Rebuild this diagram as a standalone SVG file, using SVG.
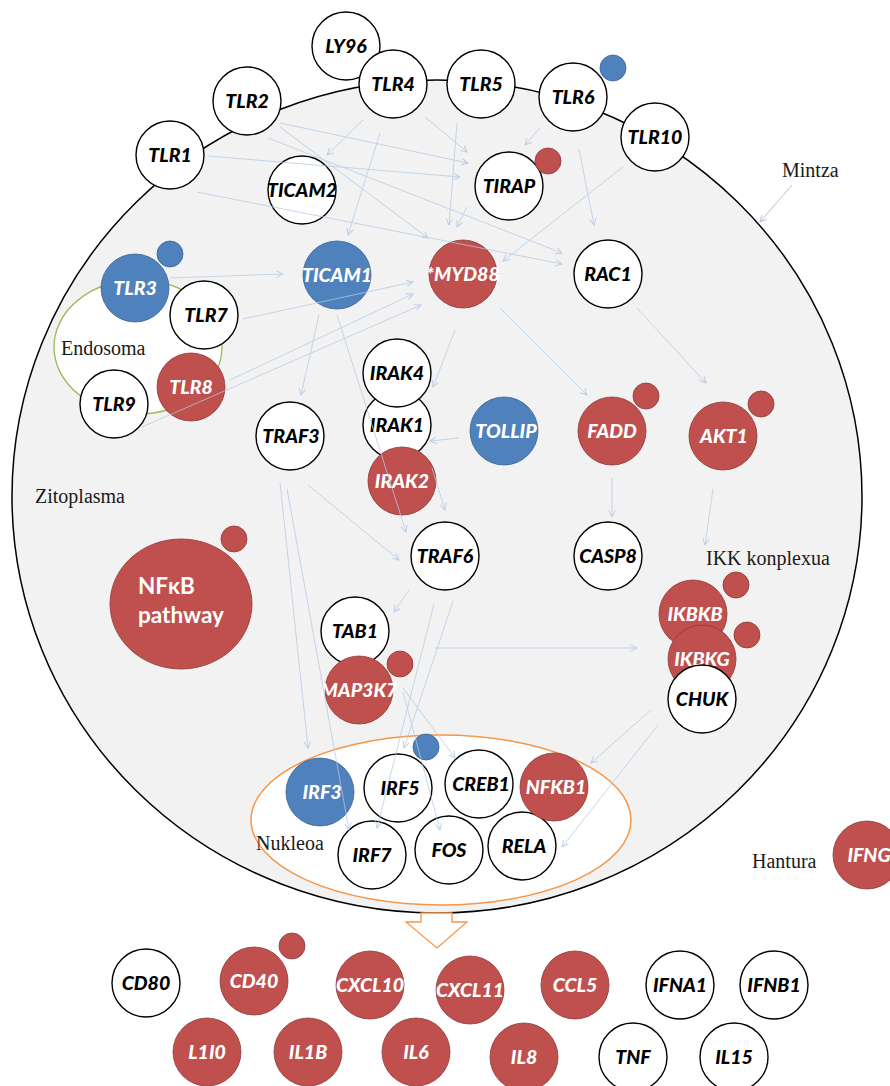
<svg xmlns="http://www.w3.org/2000/svg" width="890" height="1086" viewBox="0 0 890 1086">
<style>
.nw{fill:#fff;stroke:#000;stroke-width:1.4}
.nr{fill:#c0504d;stroke:#8c3a38;stroke-width:0.8}
.nb{fill:#4f81bd;stroke:#3a6496;stroke-width:0.8}
.t{font-family:Lato,"Liberation Sans",sans-serif;font-weight:900;font-style:italic;font-size:19.5px;text-anchor:middle}
.tk{fill:#000}
.tw{fill:#fff}
.lbl{font-family:"Liberation Serif",serif;font-size:20px;fill:#1a1a1a}
.c line{stroke:#b4cbe6;stroke-width:1;fill:none;marker-end:url(#ah)}
</style>
<defs>
<marker id="ah" viewBox="0 0 10 10" refX="9" refY="5" markerWidth="8" markerHeight="8" orient="auto" markerUnits="userSpaceOnUse">
<path d="M1,1 L9,5 L1,9" fill="none" stroke="#a9c1e0" stroke-width="1.2"/>
</marker>
<marker id="ahm" viewBox="0 0 10 10" refX="9" refY="5" markerWidth="8" markerHeight="8" orient="auto" markerUnits="userSpaceOnUse">
<path d="M1,1 L9,5 L1,9" fill="none" stroke="#aaaac8" stroke-width="1.2"/>
</marker>
</defs>
<rect width="890" height="1086" fill="#fff"/>
<g id="cell">
<ellipse cx="437" cy="496.5" rx="425" ry="416.5" fill="#f2f2f2" stroke="#000" stroke-width="1.5"/>
</g>
<g id="endosome">
<ellipse cx="138" cy="347" rx="84" ry="67" fill="#fff" stroke="#9bbb59" stroke-width="1.3"/>
<text class="lbl" x="61" y="355">Endosoma</text>
</g>
<g id="nucleus">
<ellipse cx="441" cy="820" rx="190" ry="85" fill="#fff" stroke="#f79646" stroke-width="1.5"/>
<text class="lbl" x="256" y="850">Nukleoa</text>
</g>
<g id="labels">
<text class="lbl" x="35" y="503">Zitoplasma</text>
<text class="lbl" x="706" y="565">IKK konplexua</text>
<text class="lbl" x="782" y="177">Mintza</text>
<text class="lbl" x="752" y="868">Hantura</text>
</g>
<g id="export-arrow">
<polygon points="421,913 452,913 452,922 467,922 437,948 406,922 421,922" fill="#fff" stroke="#f79646" stroke-width="1.3"/>
</g>
<g id="LY96"><circle class="nw" cx="346" cy="46" r="34"/><text class="t tk" x="346" y="53">LY96</text></g>
<g id="TLR4"><circle class="nw" cx="393" cy="84" r="34"/><text class="t tk" x="393" y="91">TLR4</text></g>
<g id="TLR5"><circle class="nw" cx="481" cy="84" r="34"/><text class="t tk" x="481" y="91">TLR5</text></g>
<g id="TLR6"><circle class="nw" cx="573" cy="97" r="34"/><text class="t tk" x="573" y="104">TLR6</text><circle class="nb" cx="613" cy="68" r="13"/></g>
<g id="TLR10"><circle class="nw" cx="655" cy="137" r="34"/><text class="t tk" x="655" y="144">TLR10</text></g>
<g id="TLR2"><circle class="nw" cx="247" cy="101" r="34"/><text class="t tk" x="247" y="108">TLR2</text></g>
<g id="TLR1"><circle class="nw" cx="170" cy="155" r="34"/><text class="t tk" x="170" y="162">TLR1</text></g>
<g id="TICAM2"><circle class="nw" cx="302" cy="190" r="34"/><text class="t tk" x="302" y="197">TICAM2</text></g>
<g id="TIRAP"><circle class="nw" cx="509" cy="186" r="34"/><text class="t tk" x="509" y="193">TIRAP</text><circle class="nr" cx="548" cy="161" r="13"/></g>
<g id="TLR3"><circle class="nb" cx="135" cy="288" r="34"/><text class="t tw" x="135" y="295">TLR3</text><circle class="nb" cx="170" cy="254" r="13"/></g>
<g id="TLR7"><circle class="nw" cx="204" cy="315" r="34"/><text class="t tk" x="206" y="322">TLR7</text></g>
<g id="TLR9"><circle class="nw" cx="114" cy="404" r="34"/><text class="t tk" x="114" y="411">TLR9</text></g>
<g id="TLR8"><circle class="nr" cx="191" cy="387" r="34"/><text class="t tw" x="191" y="394">TLR8</text></g>
<g id="TICAM1"><circle class="nb" cx="337" cy="275" r="34"/><text class="t tw" x="337" y="282">TICAM1</text></g>
<g id="MYD88"><circle class="nr" cx="463" cy="274" r="34"/><text class="t tw" x="463" y="281">*MYD88</text></g>
<g id="RAC1"><circle class="nw" cx="608" cy="274" r="34"/><text class="t tk" x="608" y="281">RAC1</text></g>
<g id="IRAK1"><circle class="nw" cx="397" cy="425" r="34"/><text class="t tk" x="397" y="432">IRAK1</text></g>
<g id="IRAK4"><circle class="nw" cx="397" cy="373" r="34"/><text class="t tk" x="397" y="380">IRAK4</text></g>
<g id="IRAK2"><circle class="nr" cx="402" cy="481" r="34"/><text class="t tw" x="402" y="488">IRAK2</text></g>
<g id="TOLLIP"><circle class="nb" cx="504" cy="431" r="34"/><text class="t tw" x="506" y="438">TOLLIP</text></g>
<g id="TRAF3"><circle class="nw" cx="290" cy="436" r="34"/><text class="t tk" x="291" y="443">TRAF3</text></g>
<g id="FADD"><circle class="nr" cx="612" cy="431" r="34"/><text class="t tw" x="612" y="438">FADD</text><circle class="nr" cx="646" cy="396" r="13"/></g>
<g id="AKT1"><circle class="nr" cx="723" cy="436" r="34"/><text class="t tw" x="724" y="443">AKT1</text><circle class="nr" cx="761" cy="404" r="13"/></g>
<g id="NFkB-pathway"><ellipse class="nr" cx="181" cy="604" rx="71" ry="65"/><text font-family="Lato,'Liberation Sans',sans-serif" font-weight="bold" font-size="22.5" fill="#fff" x="138" y="594">NFκB</text><text font-family="Lato,'Liberation Sans',sans-serif" font-weight="bold" font-size="22.5" fill="#fff" x="138" y="623">pathway</text><circle class="nr" cx="234" cy="539" r="13"/></g>
<g id="TRAF6"><circle class="nw" cx="445" cy="556" r="34"/><text class="t tk" x="445" y="563">TRAF6</text></g>
<g id="CASP8"><circle class="nw" cx="608" cy="556" r="34"/><text class="t tk" x="608" y="563">CASP8</text></g>
<g id="TAB1"><circle class="nw" cx="355" cy="631" r="34"/><text class="t tk" x="355" y="638">TAB1</text></g>
<g id="MAP3K7"><circle class="nr" cx="359" cy="690" r="34"/><text class="t tw" x="359" y="697">MAP3K7</text><circle class="nr" cx="400" cy="664" r="13"/></g>
<g id="IKBKB"><circle class="nr" cx="693" cy="614" r="34"/><text class="t tw" x="695" y="621">IKBKB</text><circle class="nr" cx="736" cy="585" r="13"/></g>
<g id="IKBKG"><circle class="nr" cx="702" cy="659" r="34"/><text class="t tw" x="702" y="666">IKBKG</text><circle class="nr" cx="747" cy="635" r="13"/></g>
<g id="CHUK"><circle class="nw" cx="702" cy="699" r="34"/><text class="t tk" x="702" y="706">CHUK</text></g>
<g id="IRF3"><circle class="nb" cx="320" cy="792" r="34"/><text class="t tw" x="322" y="799">IRF3</text></g>
<g id="IRF5"><circle class="nw" cx="398" cy="788" r="34"/><text class="t tk" x="400" y="795">IRF5</text><circle class="nb" cx="426" cy="747" r="13"/></g>
<g id="CREB1"><circle class="nw" cx="479" cy="784" r="34"/><text class="t tk" x="481" y="791">CREB1</text></g>
<g id="RELA"><circle class="nw" cx="522" cy="846" r="34"/><text class="t tk" x="524" y="853">RELA</text></g>
<g id="NFKB1"><circle class="nr" cx="554" cy="787" r="34"/><text class="t tw" x="556" y="794">NFKB1</text></g>
<g id="IRF7"><circle class="nw" cx="372" cy="855" r="34"/><text class="t tk" x="372" y="862">IRF7</text></g>
<g id="FOS"><circle class="nw" cx="449" cy="850" r="34"/><text class="t tk" x="449" y="857">FOS</text></g>
<g id="IFNG"><circle class="nr" cx="867" cy="855" r="34"/><text class="t tw" x="869" y="862">IFNG</text></g>
<g id="CD80"><circle class="nw" cx="146" cy="983" r="34"/><text class="t tk" x="146" y="990">CD80</text></g>
<g id="CD40"><circle class="nr" cx="254" cy="981" r="34"/><text class="t tw" x="254" y="988">CD40</text><circle class="nr" cx="292" cy="946" r="13"/></g>
<g id="CXCL10"><circle class="nr" cx="370" cy="985" r="34"/><text class="t tw" x="370" y="992">CXCL10</text></g>
<g id="CXCL11"><circle class="nr" cx="470" cy="990" r="34"/><text class="t tw" x="470" y="997">CXCL11</text></g>
<g id="CCL5"><circle class="nr" cx="575" cy="985" r="34"/><text class="t tw" x="575" y="992">CCL5</text></g>
<g id="IFNA1"><circle class="nw" cx="680" cy="985" r="34"/><text class="t tk" x="680" y="992">IFNA1</text></g>
<g id="IFNB1"><circle class="nw" cx="774" cy="985" r="34"/><text class="t tk" x="774" y="992">IFNB1</text></g>
<g id="L1I0"><circle class="nr" cx="207" cy="1052" r="34"/><text class="t tw" x="207" y="1059">L1I0</text></g>
<g id="IL1B"><circle class="nr" cx="308" cy="1052" r="34"/><text class="t tw" x="308" y="1059">IL1B</text></g>
<g id="IL6"><circle class="nr" cx="416" cy="1052" r="34"/><text class="t tw" x="416" y="1059">IL6</text></g>
<g id="IL8"><circle class="nr" cx="524" cy="1057" r="34"/><text class="t tw" x="524" y="1064">IL8</text></g>
<g id="TNF"><circle class="nw" cx="633" cy="1057" r="34"/><text class="t tk" x="633" y="1064">TNF</text></g>
<g id="IL15"><circle class="nw" cx="734" cy="1057" r="34"/><text class="t tk" x="734" y="1064">IL15</text></g>
<g id="connectors" class="c" opacity="0.75">
<line x1="280" y1="123" x2="468" y2="163"/>
<line x1="280" y1="127" x2="428" y2="238"/>
<line x1="268" y1="138" x2="562" y2="253"/>
<line x1="208" y1="156" x2="460" y2="177"/>
<line x1="197" y1="192" x2="562" y2="264"/>
<line x1="363" y1="120" x2="327" y2="155"/>
<line x1="380" y1="133" x2="348" y2="235"/>
<line x1="425" y1="117" x2="467" y2="152"/>
<line x1="457" y1="123" x2="449" y2="225"/>
<line x1="467" y1="207" x2="457" y2="227"/>
<line x1="540" y1="128" x2="525" y2="145"/>
<line x1="579" y1="149" x2="594" y2="225"/>
<line x1="623" y1="167" x2="503" y2="261"/>
<line x1="170" y1="278" x2="283" y2="274"/>
<line x1="243" y1="319" x2="413" y2="282"/>
<line x1="230" y1="380" x2="413" y2="294"/>
<line x1="142" y1="427" x2="421" y2="305"/>
<line x1="319" y1="315" x2="301" y2="395"/>
<line x1="337" y1="315" x2="406" y2="532"/>
<line x1="455" y1="330" x2="433" y2="387"/>
<line x1="459" y1="438" x2="430" y2="441"/>
<line x1="432" y1="468" x2="445" y2="510"/>
<line x1="500" y1="308" x2="587" y2="395"/>
<line x1="637" y1="308" x2="706" y2="383"/>
<line x1="612" y1="478" x2="612" y2="517"/>
<line x1="713" y1="489" x2="705" y2="545"/>
<line x1="308" y1="485" x2="399" y2="560"/>
<line x1="280" y1="482" x2="308" y2="748"/>
<line x1="287" y1="489" x2="349" y2="830"/>
<line x1="409" y1="590" x2="394" y2="612"/>
<line x1="453" y1="601" x2="404" y2="748"/>
<line x1="434" y1="604" x2="377" y2="828"/>
<line x1="435" y1="648" x2="637" y2="648"/>
<line x1="403" y1="688" x2="455" y2="758"/>
<line x1="403" y1="692" x2="440" y2="830"/>
<line x1="651" y1="710" x2="591" y2="763"/>
<line x1="658" y1="725" x2="562" y2="847"/>
<line x1="792" y1="185" x2="760" y2="222" style="stroke:#aaaac8;marker-end:url(#ahm)"/>
</g>
</svg>
